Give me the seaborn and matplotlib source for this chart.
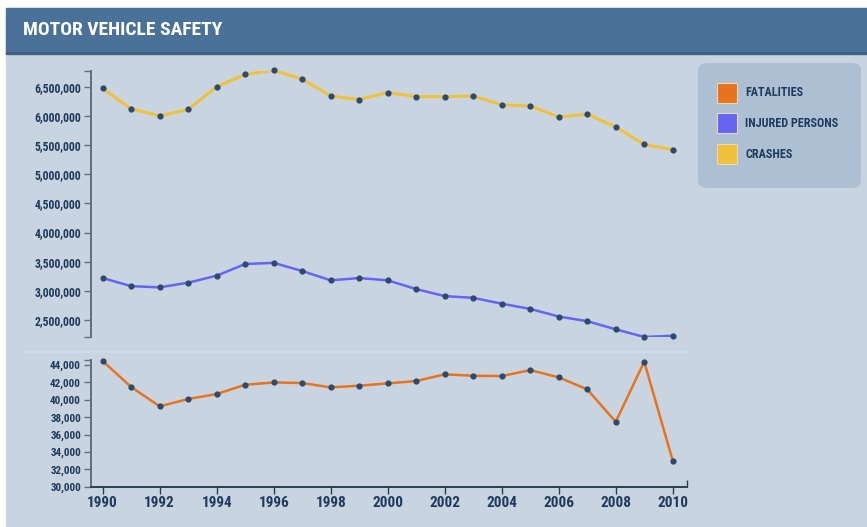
import matplotlib
matplotlib.use('Agg')
import matplotlib.pyplot as plt
import seaborn as sns
import numpy as np
import pandas as pd
from matplotlib.patches import Rectangle, FancyBboxPatch
from matplotlib.ticker import FuncFormatter
from matplotlib import font_manager


# Data

years = list(range(1990, 2011))

crashes = [6470000, 6120000, 6000000, 6110000, 6500000, 6710000, 6780000, 6630000,
           6340000, 6280000, 6400000, 6330000, 6330000, 6340000, 6190000, 6170000,
           5980000, 6030000, 5810000, 5510000, 5420000]

injured = [3220000, 3080000, 3060000, 3140000, 3260000, 3460000, 3480000, 3340000,
           3180000, 3220000, 3180000, 3030000, 2910000, 2880000, 2780000, 2690000,
           2560000, 2480000, 2340000, 2210000, 2230000]

fatalities = [44460, 41470, 39250, 40090, 40660, 41730, 42000, 41930, 41430, 41620,
              41890, 42160, 42930, 42770, 42730, 43420, 42580, 41200, 37470, 44380,
              32990]

upper_ticks = [2500000, 3000000, 3500000, 4000000, 4500000, 5000000, 5500000, 6000000, 6500000]
lower_ticks = [30000, 32000, 34000, 36000, 38000, 40000, 42000, 44000]
year_ticks = list(range(1990, 2011, 2))

legend_labels = ['FATALITIES', 'INJURED PERSONS', 'CRASHES']


# Style

sns.set_style('white')

# pick a narrow font if one is installed
names = {f.name for f in font_manager.fontManager.ttflist}
narrow = 'DejaVu Sans'
for cand in ['Roboto Condensed', 'Liberation Sans Narrow', 'Open Sans Condensed']:
    if cand in names:
        narrow = cand
        break
plt.rcParams['font.family'] = [narrow, 'DejaVu Sans']

bg = '#c8d5e1'
bar_color = '#4a7298'
text_color = '#1f3a5c'
c_fat = '#e8731f'
c_inj = '#6565f2'
c_cra = '#f2c13c'
c_dot = '#2c4a6e'

W, H = 867, 527
fig = plt.figure(figsize=(W / 100, H / 100), dpi=100)
fig.patch.set_facecolor('white')


def box(x0, y0, x1, y1):
    # pixel box (top-left origin) -> figure coords
    return x0 / W, 1 - y1 / H, (x1 - x0) / W, (y1 - y0) / H


# panel background and title bar
l, b, w, h = box(6, 8, 867, 527)
fig.patches.append(Rectangle((l, b), w, h, transform=fig.transFigure, color=bg, zorder=-3))
l, b, w, h = box(6, 8, 867, 53)
fig.patches.append(Rectangle((l, b), w, h, transform=fig.transFigure, color=bar_color, zorder=-2))
l, b, w, h = box(6, 52, 867, 54)
fig.patches.append(Rectangle((l, b), w, h, transform=fig.transFigure, color='#3f6283', zorder=-2))
fig.text(23 / W, 1 - 30 / H, 'MOTOR VEHICLE SAFETY', color='white', fontsize=14,
         fontweight='bold', va='center', ha='left')

# separator line between the two panels
l, b, w, h = box(25, 351.3, 686, 352.3)
fig.patches.append(Rectangle((l, b), w, h, transform=fig.transFigure, color='#d0dae4', zorder=-2))

xlim = (1989.58, 2010.49)

# Upper chart: crashes and injured persons
ax1 = fig.add_axes(box(90.7, 70.7, 686.7, 336.7))
ax1.set_facecolor('none')
sns.lineplot(x=years, y=crashes, ax=ax1, color=c_cra, linewidth=2.2, zorder=2)
sns.lineplot(x=years, y=injured, ax=ax1, color=c_inj, linewidth=1.8, zorder=2)
ax1.scatter(years, crashes, s=12, color=c_dot, zorder=3, clip_on=False)
ax1.scatter(years, injured, s=12, color=c_dot, zorder=3, clip_on=False)
ax1.set_xlim(*xlim)
ax1.set_ylim(2214000, 6774000)
ax1.set_yticks(upper_ticks)
ax1.set_yticks([2214000, 6774000], minor=True)
ax1.yaxis.set_major_formatter(FuncFormatter(lambda v, p: f'{int(v):,}'))
ax1.set_xticks([])

# Lower chart: fatalities
ax2 = fig.add_axes(box(90.7, 360, 686.7, 486.7))
ax2.set_facecolor('none')
sns.lineplot(x=years, y=fatalities, ax=ax2, color=c_fat, linewidth=1.8, zorder=2)
ax2.scatter(years, fatalities, s=12, color=c_dot, zorder=3, clip_on=False)
ax2.set_xlim(*xlim)
ax2.set_ylim(30000, 44580)
ax2.set_yticks(lower_ticks)
ax2.set_yticks([44580], minor=True)
ax2.yaxis.set_major_formatter(FuncFormatter(lambda v, p: f'{int(v):,}'))
ax2.set_xticks(year_ticks)
ax2.set_xticks([xlim[1]], minor=True)

for ax, ysize in ((ax1, 8.5), (ax2, 8)):
    for s in ['top', 'right']:
        ax.spines[s].set_visible(False)
    ax.spines['left'].set_color('#5f6f80')
    ax.spines['left'].set_linewidth(1.4)
    ax.spines['bottom'].set_color('#2e3f52')
    ax.spines['bottom'].set_linewidth(1.4)
    ax.tick_params(axis='y', which='both', left=True, direction='out', length=5, width=1,
                   color='#5f6f80', labelsize=ysize, labelcolor=text_color, pad=2)
    ax.tick_params(axis='x', which='both', bottom=True, direction='out', length=5, width=1,
                   color='#2e3f52', labelsize=11, labelcolor=text_color, pad=2)
    for t in ax.get_yticklabels() + ax.get_xticklabels():
        t.set_fontweight('bold')
ax1.spines['bottom'].set_visible(False)
ax2.tick_params(axis='x', which='minor', direction='in', length=5)

# Legend box
l, b, w, h = box(698, 63, 861, 188)
fig.patches.append(FancyBboxPatch((l, b), w, h, transform=fig.transFigure,
                                  boxstyle='round,pad=0,rounding_size=0.012',
                                  facecolor='#adc0d3', edgecolor='none', zorder=-1))
colors = [c_fat, c_inj, c_cra]
rows = [92.7, 123.3, 154]
for lab, col, yc in zip(legend_labels, colors, rows):
    l, b, w, h = box(716.7, yc - 10, 736.7, yc + 10)
    fig.patches.append(Rectangle((l, b), w, h, transform=fig.transFigure,
                                 facecolor=col, edgecolor='#e8d9b0', linewidth=0.8, zorder=0))
    fig.text(745 / W, 1 - yc / H, lab, color=text_color, fontsize=8.7,
             fontweight='bold', va='center', ha='left')

plt.savefig('out.png', dpi=100, facecolor=fig.get_facecolor())
